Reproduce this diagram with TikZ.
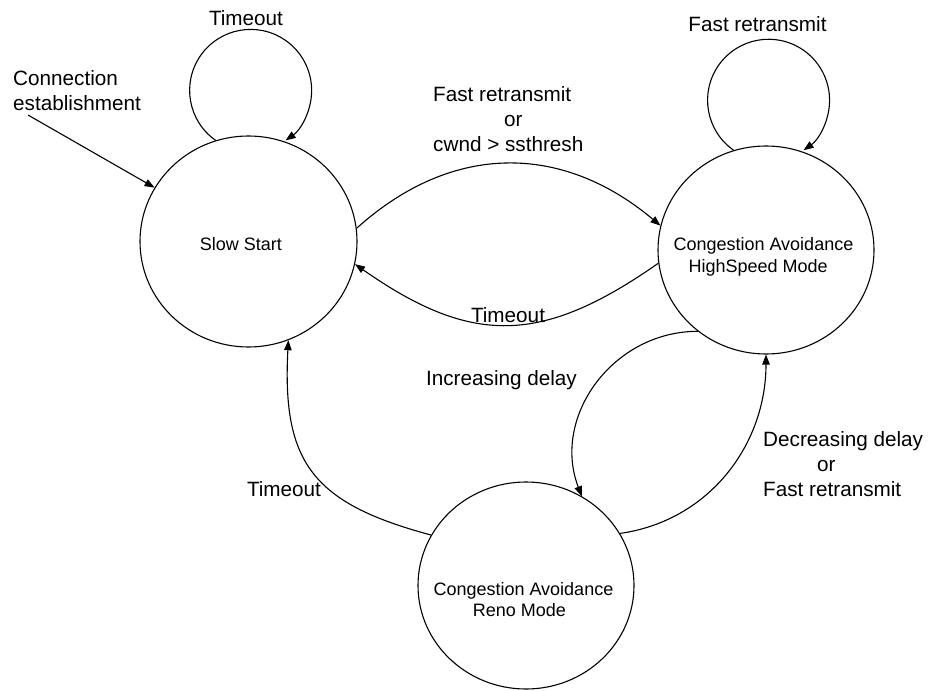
\documentclass[tikz,border=0pt]{standalone}
\usepackage{fontspec}
\setmainfont{Liberation Sans}
\usetikzlibrary{shapes.geometric,arrows.meta}

\begin{document}
\begin{tikzpicture}[x=1pt,y=1pt,
  state/.style={draw, ellipse, inner sep=0pt, line width=1.1pt},
  statetext/.style={font=\fontsize{18pt}{21.6pt}\selectfont, inner sep=0pt, align=left},
  edgetext/.style={font=\fontsize{20.7pt}{25pt}\selectfont, inner sep=0pt, align=left},
  trans/.style={line width=1.1pt, -{Triangle[length=10pt,width=7.5pt]}},
]
\fill[white] (0,0) rectangle (928,-690);
\useasboundingbox (0,0) rectangle (928,-690);

% states
\node[state, minimum width=217pt, minimum height=211pt] (ss)   at (248.5,-241.5) {};
\node[state, minimum width=216pt, minimum height=208pt] (hs)   at (766,-250) {};
\node[state, minimum width=216pt, minimum height=207pt] (reno) at (526,-585.5) {};

% state names (a multi-line node sits on the baseline of its last line)
\node[statetext, anchor=base] (sstext) at (241,-250.7) {Slow Start};
\node[statetext, anchor=base west] (hstext) at (673.3,-272.3)
  {Congestion Avoidance\\\hspace*{15pt}HighSpeed Mode};
\node[statetext, anchor=base west] (renotext) at (433.3,-616.7)
  {Congestion Avoidance\\\hspace*{39.4pt}Reno Mode};

% initial transition
\coordinate (init) at (28,-115);
\draw[trans] (init) -- (ss);
\node[edgetext, anchor=base west] (initlbl) at (13,-110.9) {Connection\\establishment};

% self loops
\draw[trans] (ss.108) arc[start angle=235, end angle=-55, radius=61];
\node[edgetext, anchor=base] (sslooplbl) at (246,-26) {Timeout};
\draw[trans] (hs.108) arc[start angle=235, end angle=-55, radius=61];
\node[edgetext, anchor=base] (hslooplbl) at (757.5,-32) {Fast retransmit};

% slow start <-> highspeed
\draw[trans] (ss.7) to[out=42, in=140, looseness=1.08] (hs.167);
\node[edgetext, anchor=base west] (sshslbl) at (433,-151.2)
  {Fast retransmit\\\hspace*{71pt}or\\cwnd > ssthresh};
\draw[trans] (hs.187) to[out=215, in=-35, looseness=1.2] (ss.-12);
\node[edgetext, anchor=base] (hssslbl) at (508,-322.7) {Timeout};

% highspeed <-> reno
\draw[trans] (hs.230) to[out=180, in=111, looseness=1.08] (reno.58);
\node[edgetext, anchor=base] (hsrenolbl) at (501.5,-385) {Increasing delay};
\draw[trans] (reno.29) to[out=8, in=270] (hs.270);
\node[edgetext, anchor=base west] (renohslbl) at (763,-496.5)
  {Decreasing delay\\\hspace*{54pt}or\\Fast retransmit};

% reno -> slow start
\draw[trans] (reno.152) to[out=165, in=267, looseness=1.3] (ss.-68);
\node[edgetext, anchor=base] (renosslbl) at (284,-496.7) {Timeout};
\end{tikzpicture}
\end{document}
